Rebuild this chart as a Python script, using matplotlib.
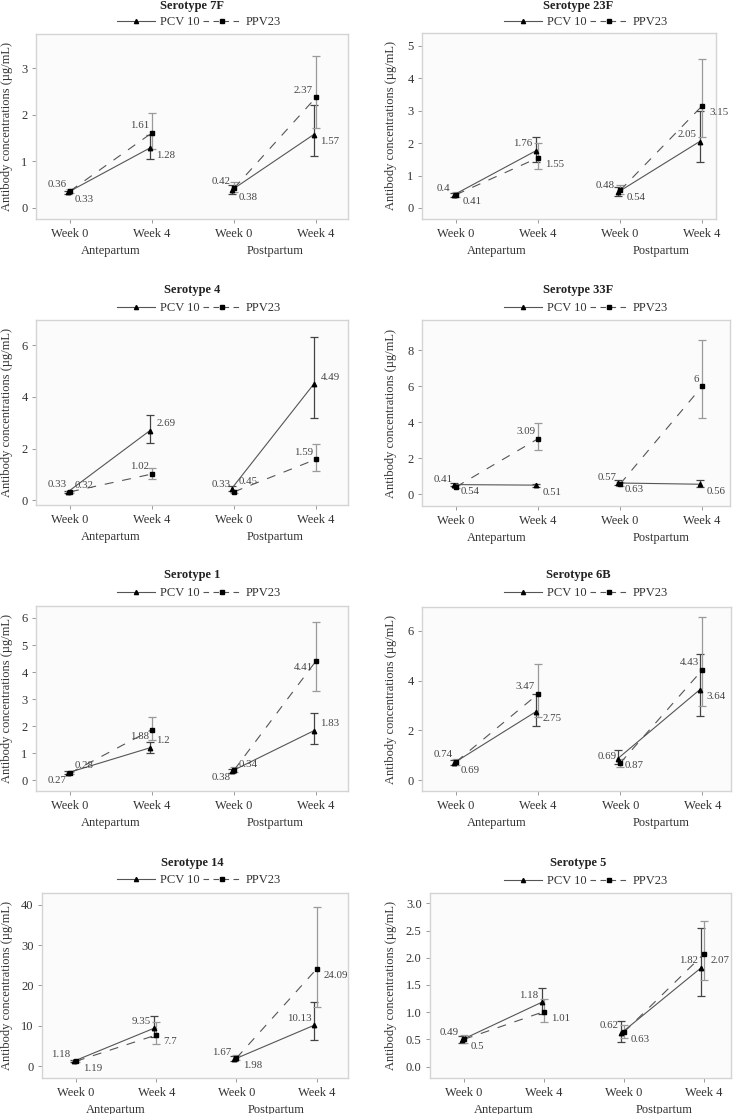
import numpy as np
import matplotlib
matplotlib.use("Agg")
import matplotlib.pyplot as plt
from matplotlib.lines import Line2D

# Data: geometric mean antibody concentrations and 95% CI per serotype
# order of the four values: Antepartum Week 0, Week 4, Postpartum Week 0, Week 4
serotypes = ["7F", "23F", "4", "33F", "1", "6B", "14", "5"]

pcv10_mean = [
    [0.33, 1.28, 0.38, 1.57],
    [0.40, 1.76, 0.48, 2.05],
    [0.32, 2.69, 0.45, 4.49],
    [0.54, 0.51, 0.63, 0.56],
    [0.28, 1.20, 0.34, 1.83],
    [0.69, 2.75, 0.87, 3.64],
    [1.18, 9.35, 1.67, 10.13],
    [0.49, 1.18, 0.62, 1.82],
]
pcv10_lo = [
    [0.29, 1.05, 0.30, 1.12],
    [0.34, 1.42, 0.37, 1.42],
    [0.28, 2.21, 0.35, 3.20],
    [0.45, 0.42, 0.50, 0.40],
    [0.24, 1.00, 0.27, 1.35],
    [0.60, 2.19, 0.65, 2.60],
    [0.95, 7.20, 1.20, 6.50],
    [0.43, 0.96, 0.45, 1.29],
]
pcv10_hi = [
    [0.37, 1.57, 0.48, 2.21],
    [0.47, 2.20, 0.64, 3.00],
    [0.37, 3.31, 0.56, 6.33],
    [0.65, 0.60, 0.78, 0.80],
    [0.33, 1.43, 0.43, 2.49],
    [0.80, 3.48, 1.21, 5.09],
    [1.45, 12.30, 2.55, 16.00],
    [0.56, 1.45, 0.83, 2.55],
]
ppv23_mean = [
    [0.36, 1.61, 0.42, 2.37],
    [0.41, 1.55, 0.54, 3.15],
    [0.33, 1.02, 0.33, 1.59],
    [0.41, 3.09, 0.57, 6.00],
    [0.27, 1.88, 0.38, 4.41],
    [0.74, 3.47, 0.69, 4.43],
    [1.19, 7.70, 1.98, 24.09],
    [0.50, 1.01, 0.63, 2.07],
]
ppv23_lo = [
    [0.32, 1.27, 0.34, 1.71],
    [0.35, 1.20, 0.43, 2.18],
    [0.29, 0.82, 0.28, 1.15],
    [0.34, 2.44, 0.46, 4.26],
    [0.23, 1.50, 0.31, 3.31],
    [0.63, 2.56, 0.55, 3.00],
    [0.95, 5.40, 1.40, 14.70],
    [0.44, 0.82, 0.52, 1.60],
]
ppv23_hi = [
    [0.40, 2.04, 0.55, 3.25],
    [0.49, 2.02, 0.72, 4.60],
    [0.38, 1.24, 0.39, 2.20],
    [0.50, 3.94, 0.70, 8.56],
    [0.32, 2.36, 0.48, 5.86],
    [0.87, 4.66, 0.87, 6.57],
    [1.50, 10.90, 2.80, 39.50],
    [0.58, 1.25, 0.77, 2.68],
]

week_labels = ["Week 0", "Week 4", "Week 0", "Week 4"]
period_labels = ["Antepartum", "Postpartum"]
y_ticks = [
    [0, 1, 2, 3],
    [0, 1, 2, 3, 4, 5],
    [0, 2, 4, 6],
    [0, 2, 4, 6, 8],
    [0, 1, 2, 3, 4, 5, 6],
    [0, 2, 4, 6],
    [0, 10, 20, 30, 40],
    [0.0, 0.5, 1.0, 1.5, 2.0, 2.5, 3.0],
]

# ---- layout (pixels in a 736x1114 image) ----
W, H = 736, 1114
# axes box: x0, x1, y0 (top), y1 (bottom)
boxes = [
    (36, 348, 34, 219), (422, 716, 33, 219),
    (36, 348, 320, 505), (422, 730, 320, 506),
    (36, 348, 606, 791), (422, 731, 607, 791),
    (42, 348, 893, 1078), (430, 731, 893, 1078),
]
ylims = [(-0.24, 3.73), (-0.34, 5.40), (-0.18, 6.98), (-0.65, 9.69),
         (-0.39, 6.44), (-0.43, 6.96), (-2.96, 42.9), (-0.21, 3.19)]
xlims = [(0.585, 4.39), (0.585, 4.17), (0.585, 4.39), (0.585, 4.34),
         (0.585, 4.39), (0.585, 4.35), (0.577, 4.39), (0.575, 4.34)]
title_y = [6, 6, 290, 290, 575, 575, 863, 863]
legend_y = [22, 22, 308, 308, 593, 593, 880, 881]
col_center = [192, 578]
legend_center = [199, 586]
ylabel_x = [7, 391]

# value label placement per panel (pcv10, ppv23): ul / ur / dl / dr
label_pos = [("dr", "ul"), ("ul", "dr"), ("ur", "ul"), ("dr", "ul"),
             ("ur", "dl"), ("dr", "ul"), ("ul", "dr"), ("ul", "dr")]

FONT = ["Liberation Serif", "DejaVu Serif"]
plt.rcParams["font.family"] = FONT
PX = 0.72  # points per pixel at dpi 100
FS = 9.0

LINE_COL = "#555555"
PCV_ERR = "#444444"
PPV_ERR = "#9a9a9a"
SPINE = "#d4d4d4"
TXT = "#333333"

x_base = np.array([1, 2, 3, 4], dtype=float)
pcv_shift = -0.03
dash = (0, (8, 8))


def label_offset(pos):
    dx = -3 * PX if pos[1] == "l" else 7 * PX
    dy = 7 * PX if pos[0] == "u" else -7 * PX
    ha = "right" if pos[1] == "l" else "left"
    return dx, dy, ha


def draw_series(ax, x, mean, lo, hi, ls, marker, err_col, pos):
    mean = np.array(mean)
    lo = np.array(lo)
    hi = np.array(hi)
    ax.errorbar(x, mean, yerr=[mean - lo, hi - mean], fmt="none",
                ecolor=err_col, elinewidth=0.9, capsize=2.6, capthick=0.9,
                zorder=2)
    for idx in ([0, 1], [2, 3]):
        ax.plot(x[idx], mean[idx], color=LINE_COL, lw=0.8, ls=ls, zorder=3)
    ax.plot(x, mean, ls="none", marker=marker, ms=3.2, color="black",
            zorder=4)
    dx, dy, ha = label_offset(pos)
    for xi, v in zip(x, mean):
        ax.annotate(f"{v:g}", xy=(xi, v), xytext=(dx, dy),
                    textcoords="offset points", ha=ha, va="center",
                    fontsize=7.8, color="#444444")


fig = plt.figure(figsize=(W / 100, H / 100), dpi=100)
fig.patch.set_facecolor("white")

handles = [
    Line2D([], [], color=LINE_COL, lw=0.8, marker="^", ms=3,
           markerfacecolor="black", markeredgecolor="black"),
    Line2D([], [], color=LINE_COL, lw=0.8, ls=(0, (5, 4)), marker="s", ms=3,
           markerfacecolor="black", markeredgecolor="black"),
]

for i, name in enumerate(serotypes):
    x0, x1, y0, y1 = boxes[i]
    col = i % 2
    ax = fig.add_axes([x0 / W, 1 - y1 / H, (x1 - x0) / W, (y1 - y0) / H])
    ax.set_facecolor("#fbfbfb")

    draw_series(ax, x_base + pcv_shift, pcv10_mean[i], pcv10_lo[i],
                pcv10_hi[i], "-", "^", PCV_ERR, label_pos[i][0])
    draw_series(ax, x_base, ppv23_mean[i], ppv23_lo[i], ppv23_hi[i],
                dash, "s", PPV_ERR, label_pos[i][1])

    ax.set_xlim(*xlims[i])
    ax.set_ylim(*ylims[i])
    ax.set_xticks(x_base)
    ax.set_xticklabels(week_labels)
    ax.set_yticks(y_ticks[i])
    if i == 7:
        ax.set_yticklabels([f"{t:.1f}" for t in y_ticks[i]])
    ax.tick_params(axis="both", length=3, width=0.7, color="#999999",
                   labelsize=FS, labelcolor=TXT)
    ax.tick_params(axis="x", pad=3.5)
    ax.tick_params(axis="y", pad=3)
    for sp in ax.spines.values():
        sp.set_color(SPINE)
        sp.set_linewidth(1.0)

    # period labels under the week ticks
    for k, per in enumerate(period_labels):
        ax.annotate(per, xy=(1.5 + 2 * k, 0), xycoords=("data", "axes fraction"),
                    xytext=(0, -32 * PX), textcoords="offset points",
                    ha="center", va="center", fontsize=FS, color=TXT)

    fig.text(ylabel_x[col] / W, 1 - (y0 + y1) / 2 / H,
             "Antibody concentrations (µg/mL)", rotation=90,
             ha="center", va="center", fontsize=FS, color=TXT)
    fig.text(col_center[col] / W, 1 - title_y[i] / H, f"Serotype {name}",
             ha="center", va="center", fontsize=FS, fontweight="bold",
             color="#222222")
    fig.legend(handles, ["PCV 10", "PPV23"], loc="center",
               bbox_to_anchor=(legend_center[col] / W, 1 - legend_y[i] / H),
               ncol=2, frameon=False, fontsize=FS, handlelength=3.0,
               handletextpad=0.4, columnspacing=0.3, labelcolor=TXT)

fig.savefig("out.png", dpi=100, facecolor="white")
